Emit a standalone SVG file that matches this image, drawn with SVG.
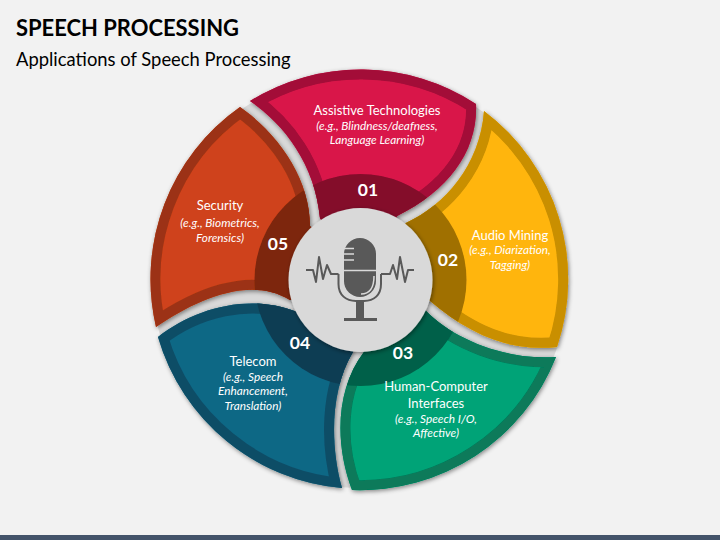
<svg xmlns="http://www.w3.org/2000/svg" width="720" height="540" viewBox="0 0 720 540">
<style>
text{font-family:Lato,"Liberation Sans",sans-serif;fill:#fff;text-anchor:middle}
.t{font-size:13px}
.s{font-size:11.8px;font-style:italic}
.n{font-size:17.500px;font-weight:700}
.h{fill:#000;text-anchor:start}
.b{fill:none;stroke-width:20}
.w{fill:none;stroke:#595959;stroke-width:2;stroke-linejoin:round}
.l{fill:none;stroke:#d9d9d9;stroke-width:1.5}
.sh{filter:url(#ds)}
</style>
<defs>
<filter id="ds" x="-15%" y="-15%" width="130%" height="130%"><feDropShadow dx="1" dy="1.5" stdDeviation="2" flood-color="#000" flood-opacity=".45"/></filter>
<path id="p1" d="M250 101A210.500 210.500 0 0 1 476 104C478 150 450 190 397 216L360 280L320 218C315 165 285 125 250 101Z"/>
<path id="p2" d="M484 111A210.500 210.500 0 0 1 557 347C510 352 470 335 429 300L360 280L406 223C445 205 480 165 484 111Z"/>
<path id="p3" d="M556 357A210.500 210.500 0 0 1 352 490C335 445 335 390 364 352L360 280L426 311C455 340 505 360 556 357Z"/>
<path id="p4" d="M342 488A210.500 210.500 0 0 1 158 337C195 308 250 293 297 312L360 280L353 352C330 390 330 445 342 488Z"/>
<path id="p5" d="M156 327A210.500 210.500 0 0 1 240 107C280 135 310 180 310 226L360 280L290 300C250 275 195 300 156 327Z"/>
<clipPath id="c1"><use href="#p1"/></clipPath>
<clipPath id="c2"><use href="#p2"/></clipPath>
<clipPath id="c3"><use href="#p3"/></clipPath>
<clipPath id="c4"><use href="#p4"/></clipPath>
<clipPath id="c5"><use href="#p5"/></clipPath>
</defs>
<rect width="720" height="540" fill="#f2f2f2"/>
<rect y="535" width="720" height="5" fill="#44546a"/>
<text class="h" x="16" y="36" textLength="223" lengthAdjust="spacingAndGlyphs" style="font-size:23.500px;font-weight:700">SPEECH PROCESSING</text>
<text class="h" x="16" y="66" style="font-size:18.400px">Applications of Speech Processing</text>
<circle cx="360.500" cy="280" r="208" fill="#d9d9d9"/>
<g id="node-5" class="sh"><use href="#p5" fill="#cf431a"/><g clip-path="url(#c5)"><use href="#p5" class="b" stroke="#9c3312"/><circle cx="360.500" cy="280" r="106" fill="#7d2610"/></g></g>
<g id="node-4" class="sh"><use href="#p4" fill="#0e6785"/><g clip-path="url(#c4)"><use href="#p4" class="b" stroke="#0a4d66"/><circle cx="360.500" cy="280" r="106" fill="#093d52"/></g></g>
<g id="node-3" class="sh"><use href="#p3" fill="#06a377"/><g clip-path="url(#c3)"><use href="#p3" class="b" stroke="#077a5a"/><circle cx="360.500" cy="280" r="106" fill="#056048"/></g></g>
<g id="node-2" class="sh"><use href="#p2" fill="#ffb50f"/><g clip-path="url(#c2)"><use href="#p2" class="b" stroke="#c98f00"/><circle cx="360.500" cy="280" r="106" fill="#a07000"/></g></g>
<g id="node-1" class="sh"><use href="#p1" fill="#d9164a"/><g clip-path="url(#c1)"><use href="#p1" class="b" stroke="#a30f38"/><circle cx="360.500" cy="280" r="106" fill="#840a2a"/></g></g>
<g id="center">
<circle class="sh" cx="360.500" cy="280" r="72" fill="#d9d9d9"/>
<rect x="344" y="238" width="32" height="59" rx="16" fill="#595959"/>
<path d="M344 248.500H354M344 254H354M344 260H354M344 270.500H376" class="l"/>
<path d="M374 276C374 288 370 294 361 294" class="l"/>
<path d="M338.500 274V284C338.500 295 346 301 356 301H364C374 301 381 295 381 284V274" class="w"/>
<path d="M306 270H313L316 282L319 257L323 279L327 265L331 274H338.500M381 274H390L393 265L397 279L400 257L405 282L408 270H414" class="w"/>
<rect x="356" y="301" width="8" height="18" fill="#595959"/>
<rect x="344" y="318" width="33" height="3" fill="#595959"/>
</g>
<g id="labels">
<text class="t" x="377" y="115">Assistive Technologies</text><text class="s" x="377" y="130">(e.g., Blindness/deafness,</text><text class="s" x="377" y="144">Language Learning)</text><text class="n" x="368" y="196">01</text>
<text class="t" x="510" y="240">Audio Mining</text><text class="s" x="510" y="254">(e.g., Diarization,</text><text class="s" x="510" y="269">Tagging)</text><text class="n" x="448" y="266">02</text>
<text class="t" x="436" y="391">Human-Computer</text><text class="t" x="436" y="408">Interfaces</text><text class="s" x="436" y="423">(e.g., Speech I/O,</text><text class="s" x="436" y="437">Affective)</text><text class="n" x="403" y="359">03</text>
<text class="t" x="253" y="366">Telecom</text><text class="s" x="253" y="381">(e.g., Speech</text><text class="s" x="253" y="395">Enhancement,</text><text class="s" x="253" y="410">Translation)</text><text class="n" x="300" y="349">04</text>
<text class="t" x="220" y="210">Security</text><text class="s" x="220" y="227">(e.g., Biometrics,</text><text class="s" x="220" y="242">Forensics)</text><text class="n" x="278" y="250">05</text>
</g>
</svg>
